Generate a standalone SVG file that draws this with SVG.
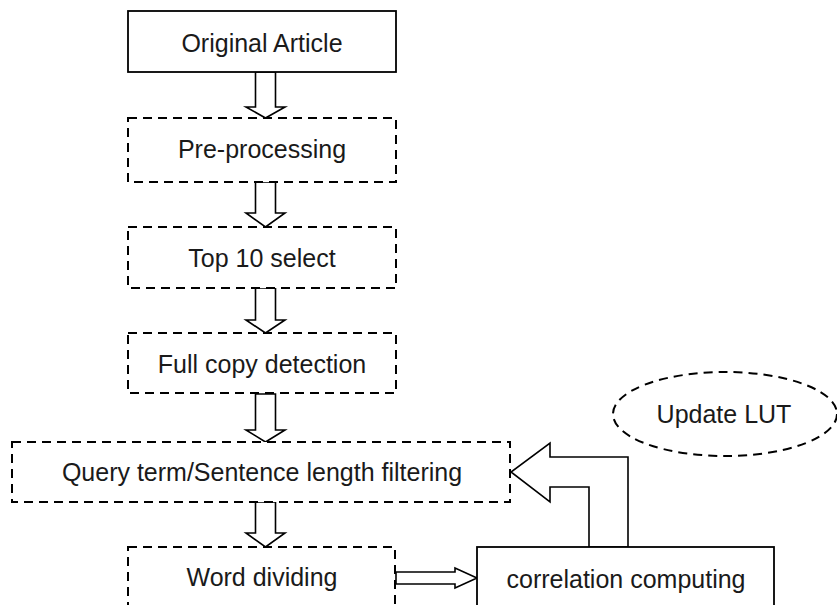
<svg xmlns="http://www.w3.org/2000/svg" width="837" height="605" viewBox="0 0 837 605">
<style>
.solid{fill:#fff;stroke:#000;stroke-width:1.8}
.dash{fill:#fff;stroke:#000;stroke-width:2;stroke-dasharray:9 6}
.arr{fill:#fff;stroke:#000;stroke-width:1.6;stroke-linejoin:miter}
text{font-family:"Liberation Sans",Arial,sans-serif;font-size:25px;fill:#1a1a1a;text-anchor:middle}
</style>
<rect width="837" height="605" fill="#fff"/>
<g id="connectors">
<polygon class="arr" points="255.5,72 275.5,72 275.5,107 285,107 265.5,118 246,107 255.5,107"/>
<polygon class="arr" points="255.5,182 275.5,182 275.5,213 285,213 265.5,227 246,213 255.5,213"/>
<polygon class="arr" points="255.5,288 275.5,288 275.5,320 285,320 265.5,333 246,320 255.5,320"/>
<polygon class="arr" points="255.5,394 275.5,394 275.5,430 285,430 265.5,442 246,430 255.5,430"/>
<polygon class="arr" points="255.5,502 275.5,502 275.5,533 285,533 265.5,547 246,533 255.5,533"/>
<polygon class="arr" points="396,572 455,572 455,568 477,578 455,588 455,584 396,584"/>
<polygon class="arr" points="628,547 628,457 550,457 550,443 511,472 550,502 550,487 589,487 589,547"/>
</g>
<g id="original-article">
<rect class="solid" x="128" y="11" width="268" height="61"/>
<text x="262" y="52">Original Article</text>
</g>
<g id="pre-processing">
<rect class="dash" x="128" y="118" width="268" height="64"/>
<text x="262" y="158">Pre-processing</text>
</g>
<g id="top10">
<rect class="dash" x="128" y="227" width="268" height="61"/>
<text x="262" y="267">Top 10 select</text>
</g>
<g id="full-copy">
<rect class="dash" x="128" y="333" width="268" height="60"/>
<text x="262" y="373">Full copy detection</text>
</g>
<g id="query-filter">
<rect class="dash" x="12" y="442" width="498" height="60"/>
<text x="262" y="481">Query term/Sentence length filtering</text>
</g>
<g id="word-dividing">
<rect class="dash" x="128" y="547" width="267" height="80"/>
<text x="262" y="586">Word dividing</text>
</g>
<g id="correlation">
<rect class="solid" x="477" y="547" width="297" height="80"/>
<text x="626" y="588">correlation computing</text>
</g>
<g id="update-lut">
<ellipse class="dash" cx="725" cy="414" rx="112" ry="42"/>
<text x="724" y="423">Update LUT</text>
</g>
</svg>
